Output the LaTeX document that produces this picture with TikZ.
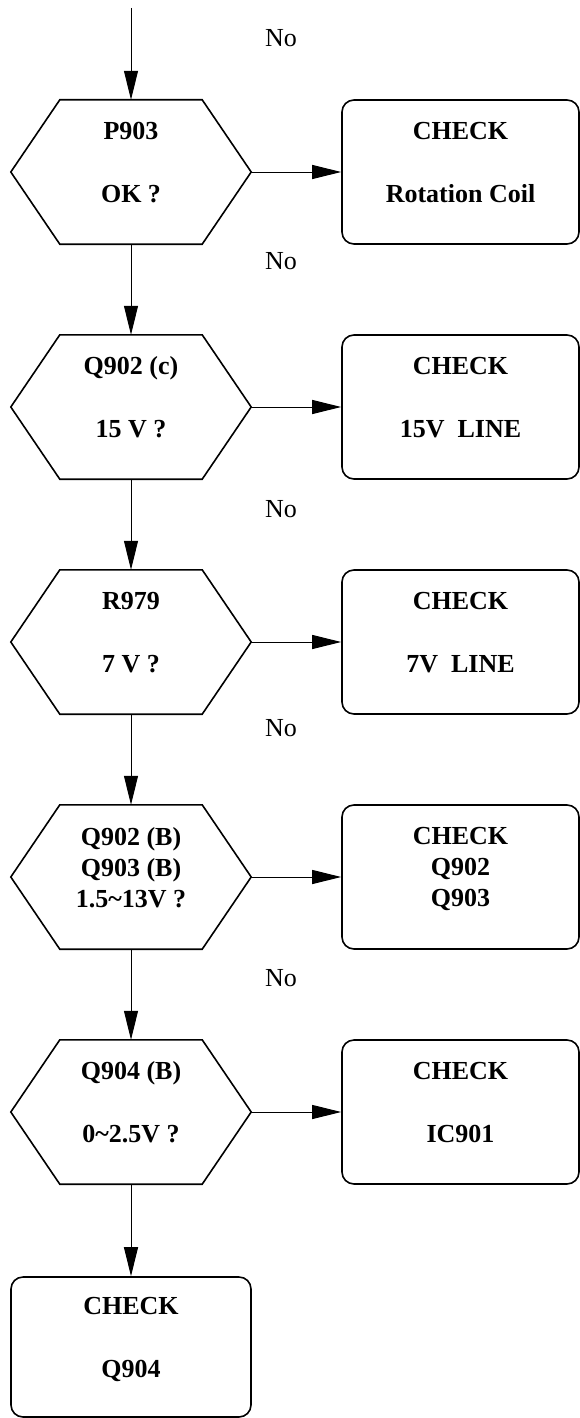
\documentclass[tikz,border=0pt]{standalone}
\usepackage{fontspec}
\setmainfont{Liberation Serif}
\usetikzlibrary{shapes,arrows.meta,positioning}
\tikzstyle{hexbox} = [rectangle, minimum width=240pt, minimum height=144pt,
    align=center, font=\fontsize{26}{31}\selectfont\bfseries, text depth=20pt]
\tikzstyle{checkbox} = [draw, rectangle, rounded corners=12pt, line width=1.6pt,
    minimum width=237pt, minimum height=144pt, align=center,
    font=\fontsize{26}{31}\selectfont\bfseries, text depth=20pt]
\tikzstyle{nolabel} = [font=\fontsize{26}{31}\selectfont]
\tikzstyle{flow} = [-{Triangle[length=29pt,width=14pt]}, line width=1pt]
% hexagon outline round an (invisible) hexbox node
\newcommand{\hexline}[1]{\draw[line width=1.6pt]
  ([xshift=49pt]#1.north west) -- ([xshift=-49pt]#1.north east) -- (#1.east)
  -- ([xshift=-49pt]#1.south east) -- ([xshift=49pt]#1.south west) -- (#1.west)
  -- cycle;}

\begin{document}
\begin{tikzpicture}[x=1pt, y=1pt, node distance = 235pt]
  \useasboundingbox (0,0) rectangle (580,-1418);
  \coordinate (start) at (131,-8);
  \node [hexbox] (h1) at (131,-172) {P903\\[32pt]OK ?};
  \node [hexbox, below of=h1] (h2) {Q902 (c)\\[32pt]15 V ?};
  \node [hexbox, below of=h2] (h3) {R979\\[32pt]7 V ?};
  \node [hexbox, below of=h3] (h4) {Q902 (B)\\Q903 (B)\\1.5\textasciitilde13V ?};
  \node [hexbox, below of=h4] (h5) {Q904 (B)\\[32pt]0\textasciitilde2.5V ?};
  \foreach \n in {h1,h2,h3,h4,h5} \hexline{\n};

  \node [checkbox, right of=h1, node distance = 329.5pt] (c1) {CHECK\\[32pt]Rotation Coil};
  \node [checkbox, right of=h2, node distance = 329.5pt] (c2) {CHECK\\[32pt]15V~~LINE};
  \node [checkbox, right of=h3, node distance = 329.5pt] (c3) {CHECK\\[32pt]7V~~LINE};
  \node [checkbox, right of=h4, node distance = 329.5pt] (c4) {CHECK\\Q902\\Q903};
  \node [checkbox, right of=h5, node distance = 329.5pt] (c5) {CHECK\\[32pt]IC901};
  \node [checkbox, below of=h5, minimum width=240pt, minimum height=140pt] (c6)
  {CHECK\\[32pt]Q904};

  \node [nolabel] (no1) at (281,-38) {No};
  \node [nolabel] (no2) at (281,-261) {No};
  \node [nolabel] (no3) at (281,-509) {No};
  \node [nolabel] (no4) at (281,-728) {No};
  \node [nolabel] (no5) at (281,-978) {No};

  \draw [flow] (start) -- (h1);
  \draw [flow] (h1) -- (h2);
  \draw [flow] (h2) -- (h3);
  \draw [flow] (h3) -- (h4);
  \draw [flow] (h4) -- (h5);
  \draw [flow] (h5) -- (c6);
  \draw [flow] (h1) -- (c1);
  \draw [flow] (h2) -- (c2);
  \draw [flow] (h3) -- (c3);
  \draw [flow] (h4) -- (c4);
  \draw [flow] (h5) -- (c5);
\end{tikzpicture}
\end{document}
